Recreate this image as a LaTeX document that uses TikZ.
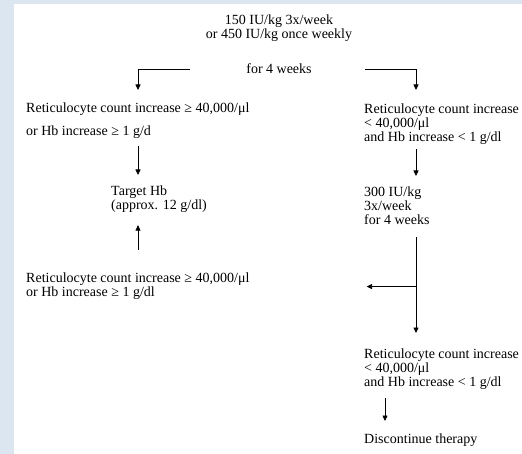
\documentclass[tikz,border=0pt]{standalone}
\usepackage{fontspec}
\setmainfont{Liberation Serif}
\usetikzlibrary{arrows.meta}
\definecolor{bluebg}{RGB}{220,230,241}
\begin{document}
\begin{tikzpicture}[x=1pt,y=-1pt,
  txt/.style={inner sep=0pt, font=\fontsize{14}{14}\selectfont, align=left, anchor=north west},
  ctxt/.style={inner sep=0pt, font=\fontsize{14}{14}\selectfont, align=center},
  arr/.style={-{Triangle[length=5.5pt,width=5pt]}, line width=0.8pt},
  hline/.style={line width=0.7pt, draw=black!80}]
\fill[white] (0,0) rectangle (522,454);
\fill[bluebg] (0,0) rectangle (14,454);
\fill[bluebg] (0,0) rectangle (522,4);
\useasboundingbox (0,0) rectangle (522,454);

\coordinate (lx) at (138,0);
\coordinate (rx) at (416,0);
\coordinate (bx) at (385,0);

\node[ctxt] (dose) at (279,28) {150 IU/kg 3x/week\\or 450 IU/kg once weekly};
\node[ctxt] (f4) at (279,69) {for 4 weeks};
\coordinate (ls) at (190,69);
\coordinate (rs) at (365,69);

\node[txt] (L1) at (26,103) {Reticulocyte count increase ≥ 40,000/μl\\[9pt]or Hb increase ≥ 1 g/d};
\node[txt] (T) at (111,186) {Target Hb\\(approx. 12 g/dl)};
\node[txt] (L2) at (26,273) {Reticulocyte count increase ≥ 40,000/μl\\or Hb increase ≥ 1 g/dl};

\node[txt] (R1) at (364,104) {Reticulocyte count increase\\< 40,000/μl\\and Hb increase < 1 g/dl};
\node[txt] (R2) at (364,187) {300 IU/kg\\3x/week\\for 4 weeks};
\node[txt] (R3) at (364,349) {Reticulocyte count increase\\< 40,000/μl\\and Hb increase < 1 g/dl};
\node[txt] (R4) at (364,434) {Discontinue therapy};

% top split
\draw[arr] (ls) -| ([yshift=13pt]L1.north -| lx);
\draw[arr] (rs) -| ([yshift=14pt]R1.north -| rx);

% left column
\draw[arr, shorten <=7pt, shorten >=11pt] (L1.south -| lx) -- (T.north -| lx);
\draw[arr, shorten <=23pt, shorten >=12pt] (L2.north -| lx) -- (T.south -| lx);

% right column
\draw[arr, shorten <=4pt, shorten >=11pt] (R1.south -| rx) -- (R2.north -| rx);
\draw[arr, shorten <=12pt, shorten >=16pt] (R2.south -| rx) -- (R3.north -| rx);
\draw[arr, shorten >=117pt] (rx |- L2.east) -- (L2.east);
\draw[arr, shorten <=8pt, shorten >=13pt] (R3.south -| bx) -- (R4.north -| bx);
\end{tikzpicture}
\end{document}
